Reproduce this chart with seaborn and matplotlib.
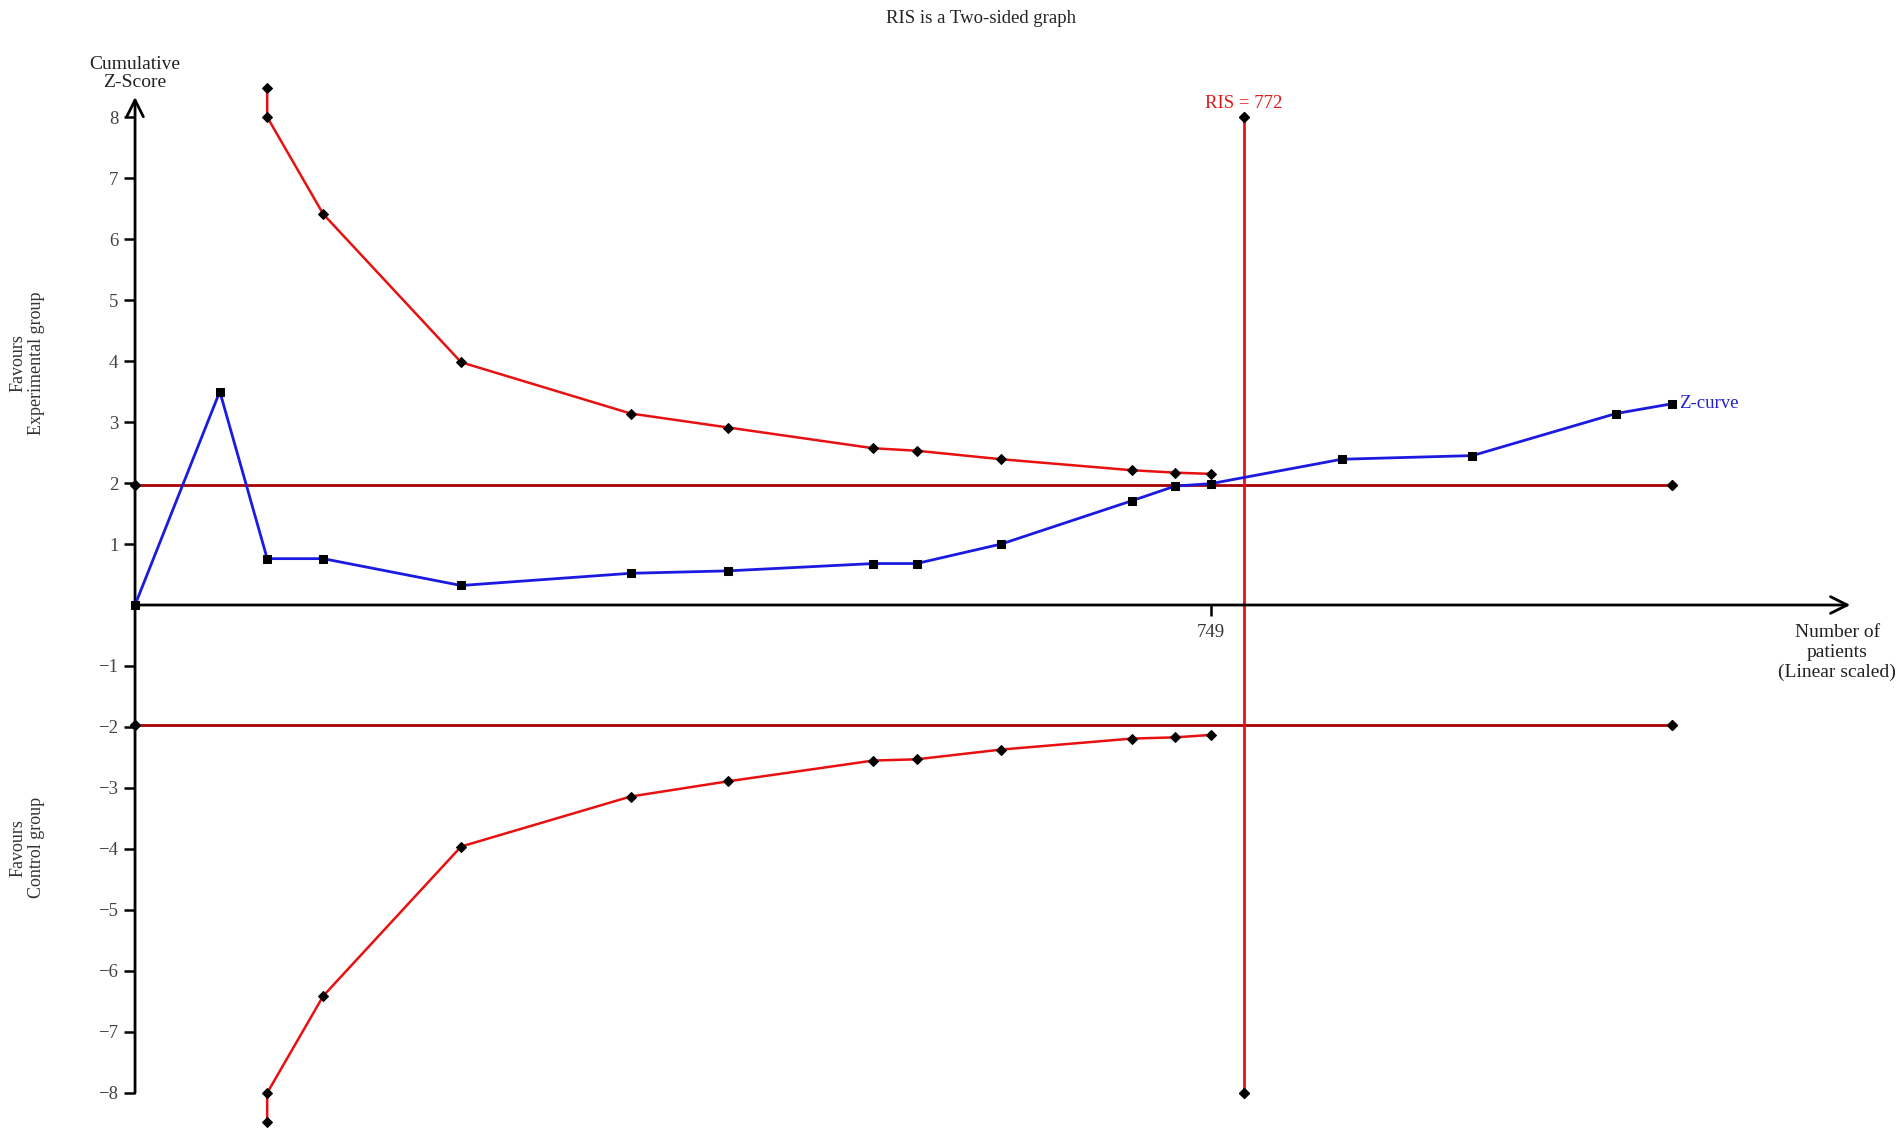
import seaborn as sns
import matplotlib.pyplot as plt
import pandas as pd

# Z-curve: cumulative number of patients and cumulative z-score
patients = [0, 59, 92, 131, 227, 345, 413, 514, 544, 603, 694, 724, 749, 840, 931, 1031, 1070]
z_curve = [0, 3.50, 0.76, 0.76, 0.32, 0.52, 0.56, 0.68, 0.68, 1.00, 1.71, 1.95, 1.99, 2.39, 2.45, 3.14, 3.30]

# monitoring boundaries (first point is the truncated value above 8)
bound_patients = [92, 92, 131, 227, 345, 413, 514, 544, 603, 694, 724, 749]
upper_bound = [8.48, 8.0, 6.41, 3.98, 3.14, 2.91, 2.57, 2.53, 2.39, 2.21, 2.17, 2.15]
lower_bound = [-8.48, -8.0, -6.41, -3.96, -3.14, -2.89, -2.55, -2.53, -2.37, -2.19, -2.17, -2.13]

# conventional significance lines and required information size
conv_x = [0, 1070]
conv_z = 1.96
ris = 772
ris_z = [-8, 8]

y_ticks = [-8, -7, -6, -5, -4, -3, -2, -1, 1, 2, 3, 4, 5, 6, 7, 8]
x_ticks = [749]

sns.set_theme(style="white")
plt.rcParams['font.family'] = ['Liberation Serif', 'DejaVu Serif']

fig = plt.figure(figsize=(19.02, 11.35), dpi=100)
ax = fig.add_axes([0, 0, 1, 1])

zdf = pd.DataFrame({'patients': patients, 'z': z_curve})
up_df = pd.DataFrame({'patients': bound_patients, 'z': upper_bound})
low_df = pd.DataFrame({'patients': bound_patients, 'z': lower_bound})

# conventional boundaries +/-1.96
for s in [1, -1]:
    ax.plot(conv_x, [s * conv_z] * 2, color='#a80000', lw=2, zorder=2)
    ax.plot(conv_x, [s * conv_z] * 2, 'D', color='black', ms=5.5, zorder=5)

# RIS vertical line
ax.plot([ris, ris], ris_z, color='#e81010', lw=2, zorder=2)
ax.plot([ris, ris], ris_z, 'D', color='black', ms=5.5, zorder=5)

# monitoring boundaries
for d in [up_df, low_df]:
    sns.lineplot(data=d, x='patients', y='z', ax=ax, sort=False, estimator=None,
                 color='#e81010', lw=1.8, marker='D', markersize=5.5,
                 markerfacecolor='black', markeredgecolor='black', zorder=4)

# Z-curve
sns.lineplot(data=zdf, x='patients', y='z', ax=ax, sort=False, estimator=None,
             color='#1a1ae0', lw=2, marker='s', markersize=6.3,
             markerfacecolor='black', markeredgecolor='black', zorder=6)

ax.set_xlim(-94, 1230)
ax.set_ylim(-8.69, 9.92)
ax.set_xlabel('')
ax.set_ylabel('')

# axes through the origin: spines only carry the ticks, arrows draw the lines
for side in ['top', 'right']:
    ax.spines[side].set_visible(False)
ax.spines['left'].set_position(('data', 0))
ax.spines['bottom'].set_position(('data', 0))
for side in ['left', 'bottom']:
    ax.spines[side].set_color('none')

ax.set_yticks(y_ticks)
ax.set_yticklabels([str(t).replace('-', '\u2212') for t in y_ticks])
ax.set_xticks(x_ticks)
ax.tick_params(axis='y', direction='out', length=8, width=1.8, color='black',
               labelsize=13.5, labelcolor='#444444', pad=4, left=True)
ax.tick_params(axis='x', direction='out', length=8, width=1.8, color='black',
               labelsize=13.5, labelcolor='#333333', pad=6, bottom=True)

arrow = dict(arrowstyle='->', lw=2, color='black', mutation_scale=30,
             shrinkA=0, shrinkB=0)
ax.annotate('', xy=(0, 8.33), xytext=(0, -8.0), arrowprops=arrow, zorder=3)
ax.annotate('', xy=(1194, 0), xytext=(0, 0), arrowprops=arrow, zorder=3)

# texts
ax.text(0, 8.71, 'Cumulative\nZ-Score', ha='center', va='center', fontsize=14,
        color='#222222', linespacing=1.05)
ax.text(1185, -0.78, 'Number of\npatients\n(Linear scaled)', ha='center', va='center',
        fontsize=14, color='#222222', linespacing=1.2)
ax.text(1075, 3.30, 'Z-curve', ha='left', va='center', fontsize=13.5, color='#2020d0')
ax.text(ris, 8.23, 'RIS = 772', ha='center', va='center', fontsize=13.5, color='#e01818')
fig.text(0.5157, 0.984, 'RIS is a Two-sided graph', ha='center', va='center',
         fontsize=13.5, color='#222222')
fig.text(0.0142, 0.68, 'Favours\nExperimental group', ha='center', va='center',
         rotation=90, fontsize=13, color='#333333', linespacing=1.1)
fig.text(0.0142, 0.253, 'Favours\nControl group', ha='center', va='center',
         rotation=90, fontsize=13, color='#333333', linespacing=1.1)

fig.savefig('out.png', dpi=100, facecolor='white')
